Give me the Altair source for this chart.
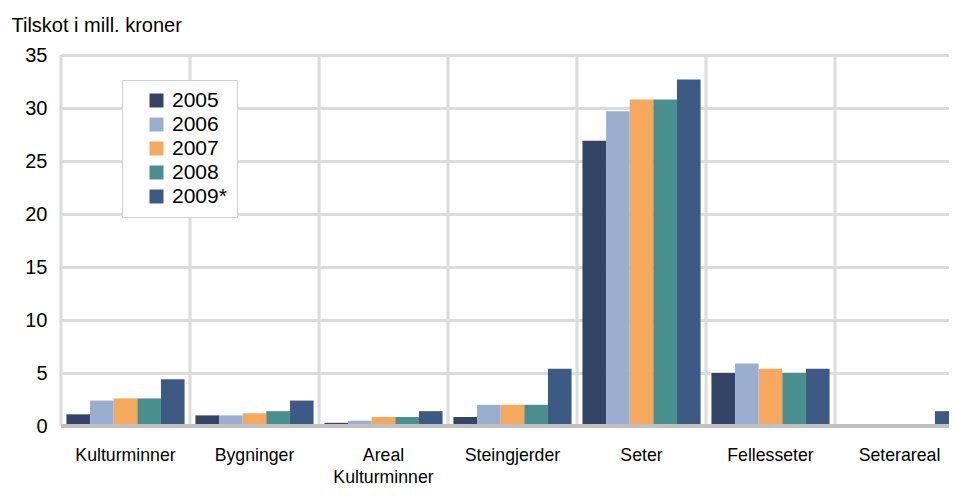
import altair as alt
import pandas as pd

categories = ["Kulturminner", "Bygninger", "Areal Kulturminner", "Steingjerder",
              "Seter", "Fellesseter", "Seterareal"]
years = ["2005", "2006", "2007", "2008", "2009*"]
v2005 = [1.1, 1.0, 0.3, 0.85, 26.9, 5.0, 0.0]
v2006 = [2.4, 1.0, 0.5, 2.0, 29.7, 5.9, 0.0]
v2007 = [2.6, 1.2, 0.85, 2.0, 30.8, 5.4, 0.0]
v2008 = [2.6, 1.4, 0.85, 2.0, 30.8, 5.0, 0.0]
v2009 = [4.4, 2.4, 1.4, 5.4, 32.7, 5.4, 1.4]
colors = ["#334466", "#9aaecf", "#f6a95e", "#4a8f8f", "#3d5a85"]
y_ticks = [0, 5, 10, 15, 20, 25, 30, 35]

rows = []
for yr, vals in zip(years, [v2005, v2006, v2007, v2008, v2009]):
    for c, v in zip(categories, vals):
        rows.append({"kategori": c, "aar": yr, "verdi": v})
df = pd.DataFrame(rows)
cat_df = pd.DataFrame({"kategori": categories})

FONT = "Liberation Sans"
NBSP = "\u00a0"

x_scale = alt.Scale(domain=categories, paddingInner=0, paddingOuter=0, range=[0, 903])
x_axis = alt.Axis(title=None, labelAngle=0, ticks=False, domain=False,
                  bandPosition=0.5, labelAlign="center",
                  labelFontSize=17.7, labelPadding=20, labelBaseline="top",
                  labelLineHeight=22, labelFont=FONT, labelColor="black",
                  labelExpr="datum.value == 'Areal Kulturminner' ? ['Areal', 'Kulturminner'] : datum.label")

bars = alt.Chart(df).mark_bar().encode(
    x=alt.X("kategori:N", scale=x_scale, sort=categories, axis=x_axis),
    xOffset=alt.XOffset("aar:N", sort=years,
                        scale=alt.Scale(paddingInner=0, paddingOuter=0.23)),
    y=alt.Y("verdi:Q", scale=alt.Scale(domain=[0, 35], nice=False),
            axis=alt.Axis(values=y_ticks, title="Tilskot i mill. kroner",
                          titleAngle=0, titleAlign="left", titleBaseline="alphabetic",
                          titleX=-50, titleY=-24, titleFontSize=20, titleFontWeight="normal",
                          titleFont=FONT, titleColor="black",
                          labelFontSize=20, labelFont=FONT, labelColor="black",
                          labelPadding=14, ticks=False, domain=False,
                          grid=True, gridColor="#dcdcdc", gridWidth=3)),
    color=alt.Color("aar:N", sort=years,
                    scale=alt.Scale(domain=years, range=colors),
                    legend=alt.Legend(title=None, orient="none", legendX=61, legendY=25,
                                      symbolType="square", symbolSize=196,
                                      symbolStrokeWidth=0, symbolOffset=14,
                                      labelOffset=5,
                                      labelExpr="datum.label + '" + NBSP * 5 + "'",
                                      labelFontSize=21, labelFont=FONT, labelColor="black",
                                      rowPadding=2, padding=10,
                                      fillColor="white", strokeColor="#d0d0d0",
                                      labelLimit=200)),
)

vrules = alt.Chart(cat_df).mark_rule(color="#dcdcdc", strokeWidth=3).encode(
    x=alt.X("kategori:N", scale=x_scale, sort=categories, bandPosition=0, axis=x_axis),
)

base_rule = alt.Chart(cat_df).mark_rule(color="#c0c0c0", strokeWidth=3).encode(
    y=alt.datum(0),
)

chart = alt.layer(vrules, bars, base_rule).properties(
    width=888, height=371,
    autosize=alt.AutoSizeParams(type="none"),
    padding={"left": 53, "top": 47, "right": 0, "bottom": 63},
).configure_view(stroke=None).configure(font=FONT)

chart.save("out.html", embed_options={"renderer": "svg", "actions": False})
